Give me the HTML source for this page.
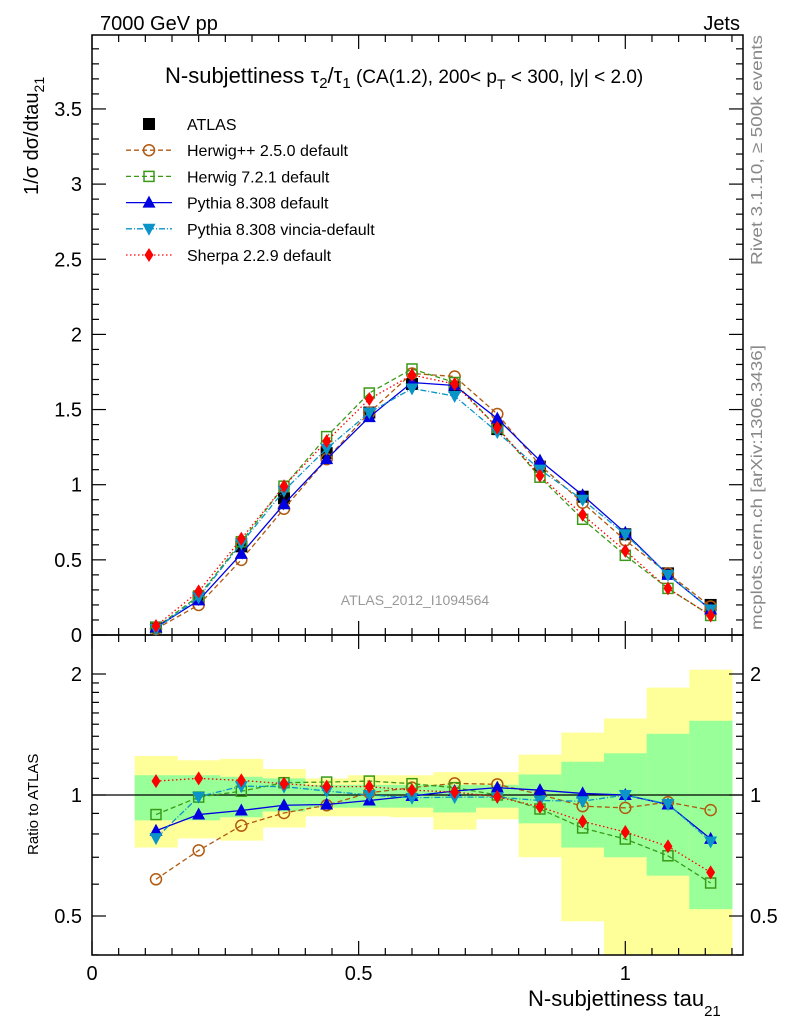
<!DOCTYPE html>
<html><head><meta charset="utf-8"><style>
body{margin:0;background:#fff}
svg{font-family:"Liberation Sans",Arial,sans-serif}
</style></head><body>
<svg id="c" width="786" height="1024" viewBox="0 0 786 1024" xmlns="http://www.w3.org/2000/svg">
<rect x="0" y="0" width="786" height="1024" fill="#fff"/>
<g id="bands"></g>
<g id="axes"></g>
<g id="series"></g>
<text x="100" y="30" font-size="20">7000 GeV pp</text>
<text x="740" y="30" font-size="20" text-anchor="end">Jets</text>
<text x="165" y="83" font-size="22">N-subjettiness τ<tspan font-size="15" dy="5">2</tspan><tspan dy="-5">/τ</tspan><tspan font-size="15" dy="5">1</tspan><tspan dy="-5" font-size="19"> (CA(1.2), 200&lt; p</tspan><tspan font-size="14" dy="6">T</tspan><tspan dy="-6" font-size="19"> &lt; 300, |y| &lt; 2.0)</tspan></text>
<text x="415" y="605" font-size="14" fill="#999" text-anchor="middle">ATLAS_2012_I1094564</text>
<text transform="translate(762,265) rotate(-90)" font-size="16" fill="#888" textLength="230" lengthAdjust="spacingAndGlyphs">Rivet 3.1.10, ≥ 500k events</text>
<text transform="translate(762,630) rotate(-90)" font-size="16" fill="#888" textLength="285" lengthAdjust="spacingAndGlyphs">mcplots.cern.ch [arXiv:1306.3436]</text>
<text transform="translate(38,195) rotate(-90)" font-size="20">1/σ dσ/dtau<tspan font-size="14" dy="6">21</tspan></text>
<text transform="translate(38,855) rotate(-90)" font-size="15">Ratio to ATLAS</text>
<text x="528" y="1006" font-size="22">N-subjettiness tau<tspan font-size="15" dy="10">21</tspan></text>
<g id="legend"></g>
</svg>
<script>
const centers=[0.12,0.2,0.28,0.36,0.44,0.52,0.6,0.68,0.76,0.84,0.92,1.0,1.08,1.16];
const atlas=[0.05,0.25,0.59,0.91,1.21,1.48,1.67,1.65,1.37,1.12,0.92,0.67,0.41,0.2];
const herwigpp=[0.04,0.2,0.5,0.84,1.17,1.48,1.74,1.72,1.47,1.13,0.88,0.63,0.41,0.19];
const herwig7=[0.05,0.26,0.62,0.99,1.32,1.61,1.77,1.68,1.38,1.05,0.77,0.53,0.31,0.13];
const pythia=[0.05,0.23,0.54,0.87,1.17,1.45,1.68,1.66,1.44,1.16,0.93,0.68,0.4,0.17];
const vincia=[0.04,0.25,0.61,0.96,1.24,1.48,1.64,1.59,1.35,1.1,0.9,0.67,0.4,0.17];
const sherpa=[0.06,0.29,0.64,0.99,1.29,1.57,1.73,1.67,1.38,1.06,0.8,0.56,0.31,0.13];
const rHerwigpp=[0.617,0.728,0.839,0.902,0.943,1.013,1.043,1.069,1.063,1.003,0.938,0.929,0.96,0.917];
const rHerwig7=[0.894,0.988,1.022,1.073,1.077,1.083,1.067,1.043,1.0,0.923,0.828,0.777,0.706,0.604];
const rPythia=[0.815,0.894,0.915,0.943,0.947,0.969,0.994,1.023,1.043,1.028,1.009,1.0,0.947,0.778];
const rVincia=[0.781,0.99,1.052,1.049,1.023,1.0,0.984,0.988,0.988,0.969,0.965,1.0,0.95,0.766];
const rSherpa=[1.083,1.1,1.087,1.067,1.049,1.049,1.028,1.017,0.99,0.934,0.86,0.809,0.745,0.642];
const yellowHi=[1.25,1.22,1.23,1.16,1.10,1.12,1.12,1.14,1.14,1.26,1.43,1.55,1.85,2.05];
const yellowLo=[0.74,0.78,0.77,0.83,0.885,0.885,0.88,0.82,0.87,0.70,0.485,0.40,0.3,0.3];
const greenHi=[1.12,1.12,1.11,1.10,1.06,1.06,1.06,1.06,1.06,1.125,1.21,1.27,1.42,1.53];
const greenLo=[0.865,0.865,0.88,0.91,0.93,0.93,0.93,0.905,0.93,0.85,0.74,0.70,0.63,0.52];
const binW=0.08;
const mainTicks=["0","0.5","1","1.5","2","2.5","3","3.5"];
const xTicks=["0","0.5","1"];
const rTicks=["0.5","1","2"];

const NS="http://www.w3.org/2000/svg";
const X0=92,X1=743,MY0=35,MY1=635,RY0=635,RY1=955;
const sx=v=>92+v*533.3;
const sy=v=>635-v*150.3;
const ry=r=>795-121*Math.log2(r);
function mk(tag,attrs,parent){const e=document.createElementNS(NS,tag);for(const k in attrs)e.setAttribute(k,attrs[k]);parent.appendChild(e);return e;}
const bands=document.getElementById('bands'),axes=document.getElementById('axes'),ser=document.getElementById('series'),leg=document.getElementById('legend');

centers.forEach((c,i)=>{
 const clip=v=>Math.min(RY1,Math.max(RY0,v));
 let y1=clip(ry(yellowHi[i])),y2=clip(ry(yellowLo[i]));
 let r=mk('rect',{x:sx(c-binW/2),y:y1,width:sx(c+binW/2)-sx(c-binW/2)+0.5,height:y2-y1,fill:'#ffff99'},bands);
 
 
 y1=clip(ry(greenHi[i]));y2=clip(ry(greenLo[i]));
 r=mk('rect',{x:sx(c-binW/2),y:y1,width:sx(c+binW/2)-sx(c-binW/2)+0.5,height:y2-y1,fill:'#99ff99'},bands);
 
 
});

let f=mk('rect',{x:X0,y:MY0,width:X1-X0,height:MY1-MY0,fill:'none',stroke:'#000','stroke-width':1.5},axes);


f=mk('rect',{x:X0,y:RY0,width:X1-X0,height:RY1-RY0,fill:'none',stroke:'#000','stroke-width':1.5},axes);


let l1=mk('line',{x1:X0,x2:X1,y1:ry(1),y2:ry(1),stroke:'#000','stroke-width':1.2},axes);



for(let k=0;k<=24;k++){const v=k*0.05,x=sx(v);const maj=k%10==0;const L=maj?14:7;
 [[MY1,-1],[MY0,1],[RY1,-1],[RY0,1]].forEach(([y,d])=>mk('line',{x1:x,x2:x,y1:y,y2:y+d*L,stroke:'#000','stroke-width':1.2},axes));}
xTicks.forEach(t=>{const tx=mk('text',{x:sx(+t),y:980,'font-size':20,'text-anchor':'middle'},axes);tx.textContent=t;
 
 });
for(let k=0;k<=39;k++){const v=k*0.1,y=sy(v);if(y<MY0)break;const maj=k%5==0;const L=maj?14:7;
 mk('line',{x1:X0,x2:X0+L,y1:y,y2:y,stroke:'#000','stroke-width':1.2},axes);
 mk('line',{x1:X1,x2:X1-L,y1:y,y2:y,stroke:'#000','stroke-width':1.2},axes);}
mainTicks.forEach(t=>{const tx=mk('text',{x:82,y:sy(+t)+7,'font-size':20,'text-anchor':'end'},axes);tx.textContent=t;
 
 });
[0.4,0.5,0.6,0.7,0.8,0.9,1,2,1.1,1.2,1.3,1.4,1.5,1.6,1.7,1.8,1.9].forEach(v=>{const y=ry(v);const maj=(v==0.5||v==1||v==2);const L=maj?14:7;
 mk('line',{x1:X0,x2:X0+L,y1:y,y2:y,stroke:'#000','stroke-width':1.2},axes);
 mk('line',{x1:X1,x2:X1-L,y1:y,y2:y,stroke:'#000','stroke-width':1.2},axes);});
rTicks.forEach(t=>{const tx=mk('text',{x:82,y:ry(+t)+7,'font-size':20,'text-anchor':'end'},axes);tx.textContent=t;
 
 
 const tx2=mk('text',{x:750,y:ry(+t)+7,'font-size':20},axes);tx2.textContent=t;
 
 });

function marker(type,x,y,col,g){
 const s=6;
 if(type=='sq')return mk('rect',{x:x-s,y:y-s,width:2*s,height:2*s,fill:'#000'},g);
 if(type=='osq')return mk('rect',{x:x-5,y:y-5,width:10,height:10,fill:'none',stroke:col,'stroke-width':1.5},g);
 if(type=='oc')return mk('circle',{cx:x,cy:y,r:5.5,fill:'none',stroke:col,'stroke-width':1.5},g);
 if(type=='tri')return mk('polygon',{points:`${x},${y-7} ${x-6.5},${y+5} ${x+6.5},${y+5}`,fill:col},g);
 if(type=='itri')return mk('polygon',{points:`${x},${y+7} ${x-6.5},${y-5} ${x+6.5},${y-5}`,fill:col},g);
 if(type=='dia')return mk('polygon',{points:`${x},${y-7} ${x-4.5},${y} ${x},${y+7} ${x+4.5},${y}`,fill:col},g);
}
const styles=[
 {name:'herwigpp',main:herwigpp,ratio:rHerwigpp,col:'#b05a10',dash:'5,3',m:'oc',label:'Herwig++ 2.5.0 default'},
 {name:'herwig7',main:herwig7,ratio:rHerwig7,col:'#3a9a18',dash:'5,3',m:'osq',label:'Herwig 7.2.1 default'},
 {name:'pythia',main:pythia,ratio:rPythia,col:'#0000e0',dash:'',m:'tri',label:'Pythia 8.308 default'},
 {name:'vincia',main:vincia,ratio:rVincia,col:'#0a94c8',dash:'6,2,1,2',m:'itri',label:'Pythia 8.308 vincia-default'},
 {name:'sherpa',main:sherpa,ratio:rSherpa,col:'#ff0000',dash:'1.5,2.5',m:'dia',label:'Sherpa 2.2.9 default'}];
const ga=mk('g',{},ser);


atlas.forEach((v,i)=>{const m=marker('sq',sx(centers[i]),sy(v),'#000',ga);
 
 });
styles.forEach(s=>{
 const g=mk('g',{},ser);
 
 
 const p1=s.main.map((v,i)=>sx(centers[i])+','+sy(v)).join(' ');
 mk('polyline',{points:p1,fill:'none',stroke:s.col,'stroke-width':1.3,'stroke-dasharray':s.dash},g);
 s.main.forEach((v,i)=>{const m=marker(s.m,sx(centers[i]),sy(v),s.col,g);
  
  });
 const p2=s.ratio.map((v,i)=>sx(centers[i])+','+ry(v)).join(' ');
 mk('polyline',{points:p2,fill:'none',stroke:s.col,'stroke-width':1.3,'stroke-dasharray':s.dash},g);
 s.ratio.forEach((v,i)=>{const m=marker(s.m,sx(centers[i]),ry(v),s.col,g);
  
  });
});
const entries=[{m:'sq',col:'#000',dash:null,label:'ATLAS'}].concat(styles);
entries.forEach((e,i)=>{const y=124+i*26.2;
 const g=mk('g',{},leg);
 
 
 if(e.dash!==null&&e.dash!==undefined)mk('line',{x1:126,x2:172,y1:y,y2:y,stroke:e.col,'stroke-width':1.3,'stroke-dasharray':e.dash},g);
 marker(e.m,149,y,e.col,g);
 const t=mk('text',{x:187,y:y+6,'font-size':16},g);t.textContent=e.label;});
</script>
</body></html>
